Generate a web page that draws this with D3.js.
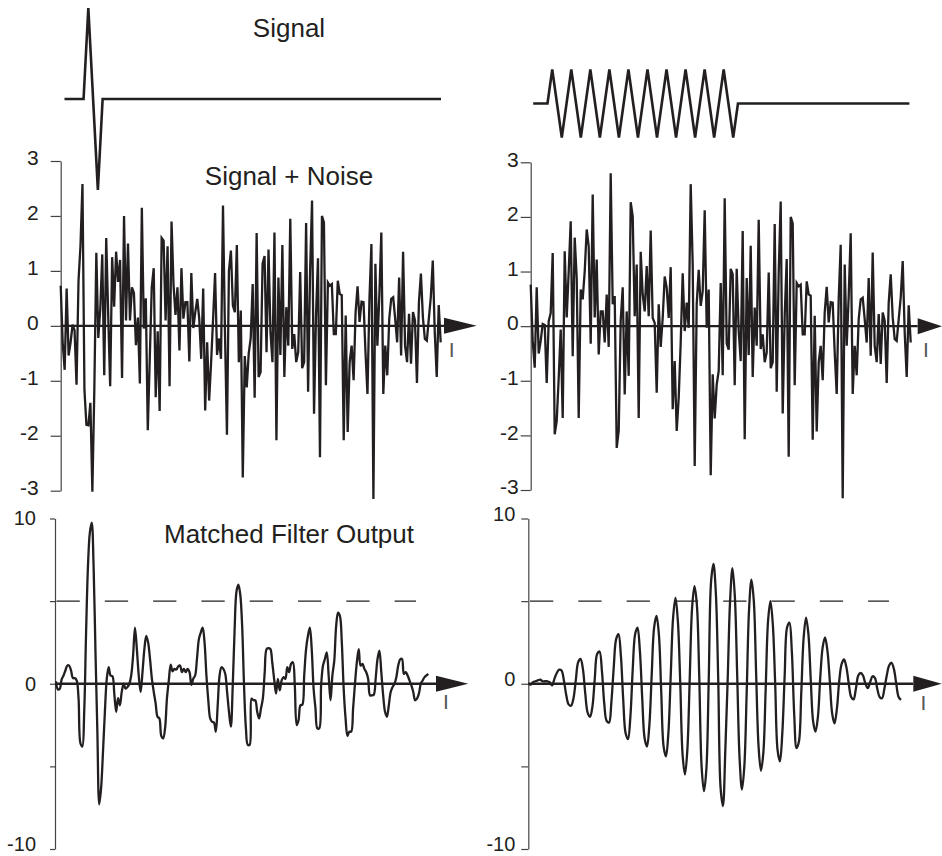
<!DOCTYPE html>
<html>
<head>
<meta charset="utf-8">
<script src="https://cdn.jsdelivr.net/npm/d3@7"></script>
<style>
  body { margin: 0; background: #ffffff; }
  text { font-family: "Liberation Sans", Arial, Helvetica, sans-serif; }
</style>
</head>
<body>
<div id="container"></div>
<script>
// ---- data ----

// clean signals (top row), one value per sample
let sigPulse = [
  0,0,0,0,0,1,0,-1,0,0,
  0,0,0,0,0,0,0,0,0,0,
  0,0,0,0,0,0,0,0,0,0,
  0,0,0,0,0,0,0,0,0,0,
  0,0,0,0,0,0,0,0,0,0,
  0,0,0,0,0,0,0,0,0,0,
  0,0,0,0,0,0,0,0,0,0,
  0,0,0,0,0,0,0,0,0,0
];
let sigBurst = [
  0,0,0,0,1,0,-1,0,1,0,
  -1,0,1,0,-1,0,1,0,-1,0,
  1,0,-1,0,1,0,-1,0,1,0,
  -1,0,1,0,-1,0,1,0,-1,0,
  1,0,-1,0,0,0,0,0,0,0,
  0,0,0,0,0,0,0,0,0,0,
  0,0,0,0,0,0,0,0,0,0,
  0,0,0,0,0,0,0,0,0,0
];

// signal + noise
let noisyPulse = [
  0.73,-0.3,-0.8,0.68,-0.54,-0.3,0.02,-0.08,-1.07,0.82,
  1.46,2.58,-1.17,-1.8,-1.81,-1.4,-3.02,-1.14,1.33,-0.22,
  0.31,1.3,-0.9,1.6,0.2,-1.1,1.25,0.35,1.35,0.8,
  1.2,-0.95,2.0,0.1,1.5,0.1,0.7,0.6,-0.35,0.15,
  -1.05,2.15,-0.05,0.5,-1.9,-0.6,0.7,1.05,-1.3,-0.1,
  -1.55,1.6,1.55,0.1,1.45,-1.1,1.9,0.75,0.2,0.7,
  -0.45,1.05,
  0.13,0.43,0.43,-0.65,0.96,-0.04,0.25,0.49,0.13,-0.6,
  0.68,-1.54,-0.3,-1.36,-0.66,0.13,0.96,-0.53,-0.23,-0.6,
  2.19,-0.12,-1.98,1.0,1.37,0.37,0.25,1.47,-0.66,0.28,
  -2.76,-0.55,-1.12,-0.5,-0.23,0.76,-1.31,1.69,-0.93,-0.84,
  1.13,1.27,-0.48,1.39,-0.12,-0.66,1.7,-2.08,0.88,-0.53,
  1.47,-0.93,0.34,-0.36,1.95,-0.42,-0.15,-0.66,-0.48,0.98,
  -0.77,-0.66,1.87,-1.2,0.98,2.28,-1.6,0.19,1.23,-2.39,
  2.0,1.88,-1.08,
  0.79,0.73,0.76,-0.15,-0.15,0.82,0.58,0.56,-2.08,0.19,
  -1.93,-0.66,-0.36,-0.99,0.25,0.72,0.07,0.44,0.43,-0.48,
  -1.24,0.49,1.49,-3.15,1.13,-0.36,0.55,1.7,-1.24,-0.36,
  -0.9,0.13,0.49,0.52,0.13,-0.3,0.88,-0.54,1.35,-0.36,
  -0.66,0.22,-0.69,0.25,0.1,-1.04,0.43,0.95,0.16,-0.24,
  -0.27,0.13,0.52,1.19,-0.12,-0.93,0.38,-0.3
];
let noisyBurst = [
  0.76,-0.27,-0.76,0.71,-0.5,-0.27,0.04,0.02,-1.04,0.09,
  0.24,1.34,-1.98,-1.74,-0.95,-0.06,-1.68,1.37,0.16,1.0,
  1.92,-0.55,1.62,0.88,-1.68,0.67,0.49,1.0,1.77,1.46,
  -0.32,2.41,0.16,1.22,-0.52,0.27,0.27,-0.3,0.58,-0.38,
  2.8,0.4,0.55,-2.23,-1.92,0.1,0.71,-1.25,0.27,-0.91,
  2.27,2.01,0.18,1.13,-1.68,1.36,0.58,0.27,1.1,0.18,
  1.75,
  0.15,0.06,-1.22,0.4,-0.38,0.15,0.91,0.7,0.15,1.08,
  -1.52,-0.64,-1.92,-1.31,-0.3,0.97,-0.09,0.43,-0.03,2.6,
  1.13,-2.56,0.4,1.03,0.37,0.64,2.12,-0.03,0.67,-2.73,
  -0.88,-1.69,-1.07,-0.82,0.79,-0.9,2.34,-0.32,-0.43,1.05,
  0.95,-1.08,1.05,-0.09,-0.64,1.74,-2.07,
  0.88,-0.53,1.47,-0.93,0.34,-0.36,1.95,-0.42,-0.15,-0.66,
  -0.48,0.98,-0.77,-0.66,1.87,-1.2,0.98,2.28,-1.6,0.19,
  1.23,-2.39,2.0,1.88,-1.08,
  0.79,0.73,0.76,-0.15,-0.15,0.82,0.58,0.56,-2.08,0.19,
  -1.93,-0.66,-0.36,-0.99,0.25,0.72,0.07,0.44,0.43,-0.48,
  -1.24,0.49,1.49,-3.15,1.13,-0.36,0.55,1.7,-1.24,-0.36,
  -0.9,0.13,0.49,0.52,0.13,-0.3,0.88,-0.54,1.35,-0.36,
  -0.66,0.22,-0.69,0.25,0.1,-1.04,0.43,0.95,0.16,-0.24,
  -0.27,0.13,0.52,1.19,-0.12,-0.93,0.38,-0.3
];

// matched filter output
let mfPulse = [
  0.14,-0.34,-0.3,0.26,0.5,0.8,1.1,1.1,0.8,0.34,
  0.34,0.2,-0.9,-3.6,-3.8,-1.7,3.1,7.1,9.15,9.75,
  7.1,1.9,-2.9,-7.3,-6.3,-4.1,-1.7,0.3,1.0,0.5,
  0.46,-0.6,-1.7,-0.87,-1.3,-0.46,0,-0.3,-0.2,0,
  0.5,1.7,3.4,2.1,0.5,-0.5,0.7,2.1,2.9,2.5,
  1.5,0.3,-0.5,-1.2,-2.0,-2.1,-3.16,-3.3,-2.7,-0.9,
  0.2,1.15,0.75,0.9,0.86,1.05,1.1,0.7,0.9,0.7,
  0.9,0.7,-0.06,0.3,0.5,1.55,2.7,3.1,3.4,2.5,
  0.5,-1.0,-2.1,-2.3,-2.35,-2.9,-1.3,0.5,1.0,0.9,
  0.6,-0.5,-1.7,-2.6,-0.1,3.3,5.6,6.0,5.4,3.5,
  -0.1,-2.7,-3.7,-3.7,
  -0.9,-1.0,-1.0,-1.7,-2.1,-1.5,-0.9,0.7,2.1,2.15,
  2.1,1.3,0.3,-0.6,0.3,-0.4,0.2,0.4,0.3,1.0,
  0.7,1.2,1.3,-0.1,-2.5,-2.2,-1.3,-1.27,0.5,2.1,
  2.9,3.4,2.1,-0.3,-1.5,-2.7,-2.7,-0.1,1.1,1.5,
  1.9,0.5,-1.0,0.5,1.4,3.5,4.3,4.1,2.5,-0.3,
  -2.1,-3.16,-2.9,-2.9,-1.5,0,1.3,2.1,1.1,1.2,
  0.9,0.7,0.3,-0.7,-0.7,-0.66,0.3,1.5,2.0,0.7,
  -0.7,-1.7,-2.0,-1.3,-0.5,-0.2,0,0.4,1.1,1.47,
  1.5,0.6,0.7,0.5,0.2,-0.1,-0.5,-1.0,-0.9,-0.6,
  0,0.2,0.4,0.5,0.6
];
let mfBurst = [
  0,-0.05,0.1,0.15,0.2,0.25,0.15,0.15,0.15,0.1,
  -0.1,0.3,0.65,0.85,0.8,0.2,-0.7,-1.25,-1.33,-0.9,
  0.2,1.3,1.5,0.9,-0.6,-1.75,-2.0,-1.4,0.3,1.8,
  1.95,0.8,-1.2,-2.25,-2.35,-1.1,1.0,2.7,3.0,1.7,
  -1.0,-3.0,-3.35,-2.0,0.9,3.0,3.4,2.0,-0.9,-3.3,
  -3.8,-2.5,0.6,3.4,4.1,3.0,-0.5,-3.8,-4.4,-3.0,
  0.5,4.0,5.2,3.8,0.1,-4.3,-5.5,-4.0,0.3,4.6,
  5.9,4.8,0.5,-5.0,-6.5,-5.2,0.2,6.2,7.25,5.5,
  0.3,-6.3,-7.4,-4.0,0.3,5.0,7.0,5.3,0.5,-4.5,
  -6.4,-5.0,-0.5,4.5,6.3,5.0,0.5,-3.8,-5.27,-4.2,
  -0.3,3.8,5.0,3.6,0.0,-4.0,-4.7,-3.0,0.5,3.4,
  3.7,2.0,-1.8,-3.9,-3.5,-0.5,2.8,4.0,3.0,0.2,
  -2.3,-2.9,-2.0,0.4,2.2,2.8,2.0,0.2,-1.8,-2.4,
  -1.5,0.2,1.2,1.47,1.0,0.0,-0.8,-0.95,-0.3,0.5,
  0.65,0.5,0.0,-0.27,0.1,0.45,0.35,-0.3,-0.8,-0.88,
  -0.3,0.5,1.1,1.27,0.9,0.0,-0.8,-0.98
];

let noiseTicks = [-3, -2, -1, 0, 1, 2, 3];
let mfTicks = [-10, -5, 0, 5, 10];
let mfLabelled = [-10, 0, 10];
let threshold = 5;
let titles = ['Signal', 'Signal + Noise', 'Matched Filter Output'];
let timeLabel = 'I';

// ---- drawing ----
let w = 942;
let h = 856;
let ink = '#231f20';
let axisInk = '#444444';
let fontStack = '"Liberation Sans", Arial, Helvetica, sans-serif';

let viz = d3.select('#container')
  .append('svg')
    .attr('width', w)
    .attr('height', h)
    .style('background-color', '#ffffff')
  ;

// y scales
let yPulseSig = d3.scaleLinear().domain([-1, 1]).range([190, 8]);
let yBurstSig = d3.scaleLinear().domain([-1, 1]).range([137.5, 69.5]);
let yNoiseL = d3.scaleLinear().domain([-3, 3]).range([490.7, 161]);
let yNoiseR = d3.scaleLinear().domain([-3, 3]).range([490, 162.3]);
let yMF = d3.scaleLinear().domain([-10, 10]).range([849, 518.5]);

//draw one trace, sample index -> x across the given pixel span
function drawTrace(data, span, yScale, width, curve) {
  let x = d3.scaleLinear().domain([0, data.length - 1]).range(span);
  let line = d3.line()
    .x(function(d, i) { return x(i); })
    .y(function(d) { return yScale(d); })
    .curve(curve || d3.curveLinear);
  viz.append('path')
    .datum(data)
    .attr('d', line)
    .attr('fill', 'none')
    .attr('stroke', ink)
    .attr('stroke-width', width)
    .attr('stroke-linejoin', 'miter');
}

//vertical axis, zero line with arrow and the time label
function drawAxes(p) {
  let axis = d3.axisLeft(p.y)
    .tickValues(p.ticks)
    .tickSize(p.tickLen)
    .tickSizeOuter(0)
    .tickPadding(p.pad)
    .tickFormat(p.fmt);

  let g = viz.append('g')
    .attr('transform', 'translate(' + p.ax + ',0)')
    .call(axis);
  g.attr('font-size', p.fs || 21).attr('font-family', fontStack);
  g.select('.domain').attr('stroke', axisInk).attr('stroke-width', 1.2);
  g.selectAll('.tick line').attr('stroke', axisInk).attr('stroke-width', 1.2);
  g.selectAll('.tick text').attr('fill', ink).attr('dy', p.dy);

  let y0 = p.y(0);
  viz.append('line')
    .attr('x1', p.ax).attr('x2', p.lineEnd)
    .attr('y1', y0).attr('y2', y0)
    .attr('stroke', ink)
    .attr('stroke-width', 2.4);

  viz.append('path')
    .attr('d', 'M' + p.lineEnd + ',' + (y0 - 8) + 'L' + p.tip + ',' + y0 + 'L' + p.lineEnd + ',' + (y0 + 8) + 'Z')
    .attr('fill', ink);

  viz.append('text')
    .attr('x', p.labelX)
    .attr('y', y0 + p.labelDy)
    .attr('text-anchor', 'middle')
    .attr('font-size', 21)
    .attr('fill', '#555555')
    .text(timeLabel);
}

function plainFmt(d) { return String(d); }
function mfFmt(d) { return mfLabelled.indexOf(d) >= 0 ? String(d) : ''; }
// lowest label sits on the bottom edge, lift it a little
function mfDy(d) { return d === -10 ? '0.08em' : '0.32em'; }

//titles
viz.selectAll('.title')
  .data(titles)
  .enter()
  .append('text')
    .attr('class', 'title')
    .attr('x', 289)
    .attr('y', function(d, i) { return [37, 185, 543][i]; })
    .attr('text-anchor', 'middle')
    .attr('font-size', 26)
    .attr('fill', ink)
    .text(function(d) { return d; });

//top row: clean signals
drawTrace(sigPulse, [64.5, 441], yPulseSig, 2.6);
drawTrace(sigBurst, [533.2, 909.4], yBurstSig, 2.6);

//middle row: signal + noise
drawAxes({ y: yNoiseL, ax: 60.7, ticks: noiseTicks, tickLen: 10, pad: 12, fmt: plainFmt, dy: '0.18em',
  lineEnd: 444, tip: 476.7, labelX: 451.7, labelDy: 31 });
drawAxes({ y: yNoiseR, ax: 530.7, ticks: noiseTicks, tickLen: 10, pad: 2, fmt: plainFmt, dy: '0.18em',
  lineEnd: 917.7, tip: 942, labelX: 926, labelDy: 31 });
drawTrace(noisyPulse, [60.7, 440.7], yNoiseL, 2.3);
drawTrace(noisyBurst, [530.7, 910.7], yNoiseR, 2.3);

//bottom row: matched filter output
drawAxes({ y: yMF, ax: 55, ticks: mfTicks, tickLen: 5, pad: 14, fmt: mfFmt, dy: mfDy, fs: 20,
  lineEnd: 436, tip: 468.3, labelX: 446, labelDy: 25.5 });
drawAxes({ y: yMF, ax: 528.3, ticks: mfTicks, tickLen: 7, pad: 6, fmt: mfFmt, dy: '0.08em', fs: 20,
  lineEnd: 913.3, tip: 941.7, labelX: 923.3, labelDy: 26 });

//threshold lines
[[56.5, 416], [530, 889]].forEach(function(span) {
  viz.append('line')
    .attr('x1', span[0]).attr('x2', span[1])
    .attr('y1', yMF(threshold)).attr('y2', yMF(threshold))
    .attr('stroke', ink)
    .attr('stroke-width', 1.2)
    .attr('stroke-dasharray', '23.3 25');
});

drawTrace(mfPulse, [56, 428.3], yMF, 2.3, d3.curveCatmullRom.alpha(0.5));
drawTrace(mfBurst, [528.3, 901], yMF, 2.3, d3.curveCatmullRom.alpha(0.5));
</script>
</body>
</html>
